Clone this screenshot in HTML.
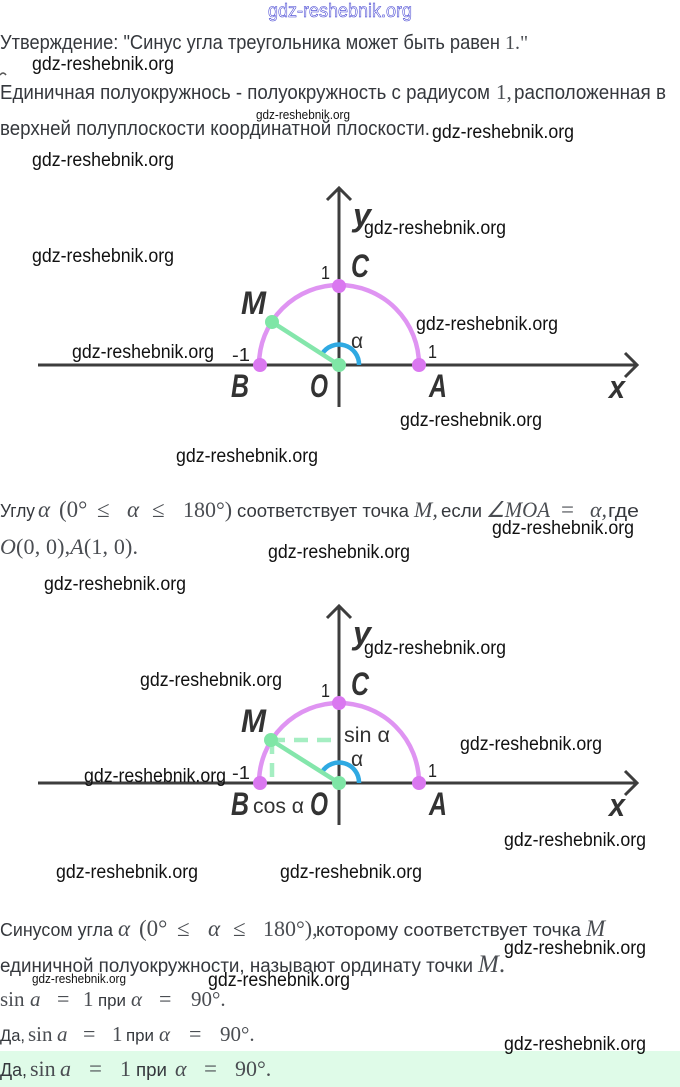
<!DOCTYPE html>
<html><head><meta charset="utf-8"><style>
html,body{margin:0;padding:0;background:#fff;width:680px;height:1087px;overflow:hidden}
svg{display:block}
.t{font-family:"Liberation Sans",sans-serif;fill:#35383d}
.m{font-family:"Liberation Serif",serif;fill:#4a4d52}
.i{font-style:italic}
.w{font-family:"Liberation Sans",sans-serif;fill:#111;font-size:19px}
.s{font-family:"Liberation Sans",sans-serif;fill:#111;font-size:13px}
.L{font-family:"Liberation Sans",sans-serif;font-weight:bold;font-style:italic;font-size:32px;fill:#333}
.n{font-family:"Liberation Sans",sans-serif;font-size:18px;fill:#222}
.a{font-family:"Liberation Sans",sans-serif;font-size:21px;fill:#333}
</style></head><body>
<svg width="680" height="1087" viewBox="0 0 680 1087" xmlns="http://www.w3.org/2000/svg">
<rect x="0" y="1051" width="680" height="36" fill="#dffbe8"/>
<text x="268" y="17" font-family="Liberation Sans,sans-serif" font-size="19" fill="#fff" stroke="#3a3ad0" stroke-width=".55" textLength="144" lengthAdjust="spacingAndGlyphs">gdz-reshebnik.org</text>

<text class="t" x="0" y="49" font-size="20" textLength="500" lengthAdjust="spacingAndGlyphs">Утверждение: "Синус угла треугольника может быть равен</text>
<text class="m" x="505" y="49" font-size="20">1."</text>
<path d="M0 75Q3 71 6 75" fill="none" stroke="#555" stroke-width="1.5"/>
<text class="t" x="0" y="99" font-size="20" textLength="490" lengthAdjust="spacingAndGlyphs">Единичная полуокружнось - полуокружность с радиусом</text>
<text class="m" x="496" y="99" font-size="21">1,</text>
<text class="t" x="514" y="99" font-size="20" textLength="152" lengthAdjust="spacingAndGlyphs">расположенная в</text>
<text class="t" x="0" y="135" font-size="20" textLength="430" lengthAdjust="spacingAndGlyphs">верхней полуплоскости координатной плоскости.</text>

<!-- diagram 1 -->
<g fill="none" stroke="#3d3d3d" stroke-width="3">
<path d="M38 365H637M625 353L637 365L625 377"/>
<path d="M339 407V188M327 200L339 188L351 200"/>
</g>
<path d="M259 365A80 80 0 0 1 419 365" fill="none" stroke="#df94f2" stroke-width="4.5"/>
<path d="M322 354A20 20 0 0 1 359 365" fill="none" stroke="#2fa9e2" stroke-width="4.5"/>
<path d="M339 365L272 322" stroke="#84e6ab" stroke-width="4.5"/>
<g fill="#da78f0"><circle cx="260" cy="365" r="7"/><circle cx="419" cy="365" r="7"/><circle cx="339" cy="286" r="7"/></g>
<g fill="#7fe6a6"><circle cx="272" cy="322" r="7"/><circle cx="339" cy="365" r="7"/></g>
<text class="L" x="353" y="226" textLength="18" lengthAdjust="spacingAndGlyphs">y</text>
<text class="L" x="351" y="277" textLength="18" lengthAdjust="spacingAndGlyphs">C</text>
<text class="L" x="241" y="314" textLength="25" lengthAdjust="spacingAndGlyphs">M</text>
<text class="L" x="231" y="397" textLength="18" lengthAdjust="spacingAndGlyphs">B</text>
<text class="L" x="310" y="397" textLength="18" lengthAdjust="spacingAndGlyphs">O</text>
<text class="L" x="429" y="397" textLength="18" lengthAdjust="spacingAndGlyphs">A</text>
<text class="L" x="609" y="398" textLength="16" lengthAdjust="spacingAndGlyphs">x</text>
<text class="n" x="321" y="279" textLength="9" lengthAdjust="spacingAndGlyphs">1</text>
<text class="n" x="232" y="361" textLength="18" lengthAdjust="spacingAndGlyphs">-1</text>
<text class="n" x="428" y="358" textLength="9" lengthAdjust="spacingAndGlyphs">1</text>
<text class="a" x="351" y="348">α</text>

<!-- text 2 -->
<text class="t" x="0" y="517" font-size="18" textLength="35" lengthAdjust="spacingAndGlyphs">Углу</text>
<text class="m i" x="38" y="517" font-size="23">α</text>
<text class="m" x="59" y="517" font-size="23">(0°</text>
<text class="m" x="97" y="517" font-size="23">≤</text>
<text class="m i" x="127" y="517" font-size="23">α</text>
<text class="m" x="152" y="517" font-size="23">≤</text>
<text class="m" x="183" y="517" font-size="22">180°)</text>
<text class="t" x="237" y="517" font-size="18" textLength="172" lengthAdjust="spacingAndGlyphs">соответствует точка</text>
<text class="m i" x="414" y="517" font-size="22">M,</text>
<text class="t" x="441" y="517" font-size="18" textLength="41" lengthAdjust="spacingAndGlyphs">если</text>
<text class="m i" x="486" y="517" font-size="22" textLength="64" lengthAdjust="spacingAndGlyphs">∠MOA</text>
<text class="m" x="561" y="517" font-size="23">=</text>
<text class="m i" x="590" y="517" font-size="22">α,</text>
<text class="t" x="608" y="517" font-size="18" textLength="31" lengthAdjust="spacingAndGlyphs">где</text>
<text class="m" x="0" y="554" font-size="22" textLength="138" lengthAdjust="spacing"><tspan class="i">O</tspan>(0, 0),<tspan class="i">A</tspan>(1, 0).</text>

<!-- diagram 2 -->
<g fill="none" stroke="#3d3d3d" stroke-width="3">
<path d="M38 783H637M625 771L637 783L625 795"/>
<path d="M339 825V606M327 618L339 606L351 618"/>
</g>
<path d="M259 783A80 80 0 0 1 419 783" fill="none" stroke="#df94f2" stroke-width="4.5"/>
<path d="M322 772A20 20 0 0 1 359 783" fill="none" stroke="#2fa9e2" stroke-width="4.5"/>
<path d="M339 783L271 740" stroke="#84e6ab" stroke-width="4.5"/>
<path d="M271 740H339M272 740V783" fill="none" stroke="#a5eec2" stroke-width="4.5" stroke-dasharray="14 9"/>
<g fill="#da78f0"><circle cx="260" cy="783" r="7"/><circle cx="419" cy="783" r="7"/><circle cx="339" cy="703" r="7"/></g>
<g fill="#7fe6a6"><circle cx="271" cy="740" r="7"/><circle cx="339" cy="783" r="7"/></g>
<text class="L" x="353" y="644" textLength="18" lengthAdjust="spacingAndGlyphs">y</text>
<text class="L" x="351" y="695" textLength="18" lengthAdjust="spacingAndGlyphs">C</text>
<text class="L" x="241" y="732" textLength="25" lengthAdjust="spacingAndGlyphs">M</text>
<text class="L" x="231" y="815" textLength="18" lengthAdjust="spacingAndGlyphs">B</text>
<text class="L" x="310" y="815" textLength="18" lengthAdjust="spacingAndGlyphs">O</text>
<text class="L" x="429" y="815" textLength="18" lengthAdjust="spacingAndGlyphs">A</text>
<text class="L" x="609" y="816" textLength="16" lengthAdjust="spacingAndGlyphs">x</text>
<text class="n" x="321" y="697" textLength="9" lengthAdjust="spacingAndGlyphs">1</text>
<text class="n" x="232" y="779" textLength="18" lengthAdjust="spacingAndGlyphs">-1</text>
<text class="n" x="428" y="777" textLength="9" lengthAdjust="spacingAndGlyphs">1</text>
<text class="a" x="351" y="766">α</text>
<text class="a" x="344" y="742" textLength="46" lengthAdjust="spacingAndGlyphs">sin α</text>
<text class="a" x="253" y="813" textLength="51" lengthAdjust="spacingAndGlyphs">cos α</text>

<!-- text 3 -->
<text class="t" x="0" y="936" font-size="18" textLength="113" lengthAdjust="spacingAndGlyphs">Синусом угла</text>
<text class="m i" x="118" y="936" font-size="23">α</text>
<text class="m" x="139" y="936" font-size="23">(0°</text>
<text class="m" x="177" y="936" font-size="23">≤</text>
<text class="m i" x="208" y="936" font-size="23">α</text>
<text class="m" x="233" y="936" font-size="23">≤</text>
<text class="m" x="263" y="936" font-size="22">180°),</text>
<text class="t" x="316" y="936" font-size="18" textLength="265" lengthAdjust="spacingAndGlyphs">которому соответствует точка</text>
<text class="m i" x="586" y="936" font-size="23">M</text>
<text class="t" x="0" y="972" font-size="19" textLength="473" lengthAdjust="spacingAndGlyphs">единичной полуокружности, называют ординату точки</text>
<text class="m" x="478" y="972" font-size="25"><tspan class="i">M</tspan>.</text>

<text class="m" x="0" y="1006" font-size="21">sin</text>
<text class="m i" x="30" y="1006" font-size="21">a</text>
<text class="m" x="57" y="1006" font-size="22">=</text>
<text class="m" x="83" y="1006" font-size="21">1</text>
<text class="t" x="98" y="1006" font-size="17" textLength="28" lengthAdjust="spacingAndGlyphs">при</text>
<text class="m i" x="131" y="1006" font-size="21">α</text>
<text class="m" x="159" y="1006" font-size="22">=</text>
<text class="m" x="191" y="1006" font-size="21">90°.</text>

<text class="t" x="0" y="1041" font-size="17" textLength="25" lengthAdjust="spacingAndGlyphs">Да,</text>
<text class="m" x="28" y="1041" font-size="21">sin</text>
<text class="m i" x="57" y="1041" font-size="21">a</text>
<text class="m" x="83" y="1041" font-size="22">=</text>
<text class="m" x="112" y="1041" font-size="21">1</text>
<text class="t" x="126" y="1041" font-size="17" textLength="28" lengthAdjust="spacingAndGlyphs">при</text>
<text class="m i" x="159" y="1041" font-size="21">α</text>
<text class="m" x="189" y="1041" font-size="22">=</text>
<text class="m" x="220" y="1041" font-size="21">90°.</text>

<text class="t" x="0" y="1076" font-size="18" textLength="27" lengthAdjust="spacingAndGlyphs">Да,</text>
<text class="m" x="30" y="1076" font-size="22">sin</text>
<text class="m i" x="60" y="1076" font-size="22">a</text>
<text class="m" x="89" y="1076" font-size="23">=</text>
<text class="m" x="120" y="1076" font-size="22">1</text>
<text class="t" x="136" y="1076" font-size="18" textLength="31" lengthAdjust="spacingAndGlyphs">при</text>
<text class="m i" x="175" y="1076" font-size="22">α</text>
<text class="m" x="204" y="1076" font-size="23">=</text>
<text class="m" x="235" y="1076" font-size="22">90°.</text>

<!-- watermarks -->
<g>
<text class="w" x="32" y="70" textLength="142" lengthAdjust="spacingAndGlyphs">gdz-reshebnik.org</text>
<text class="w" x="432" y="138" textLength="142" lengthAdjust="spacingAndGlyphs">gdz-reshebnik.org</text>
<text class="w" x="32" y="166" textLength="142" lengthAdjust="spacingAndGlyphs">gdz-reshebnik.org</text>
<text class="w" x="364" y="234" textLength="142" lengthAdjust="spacingAndGlyphs">gdz-reshebnik.org</text>
<text class="w" x="32" y="262" textLength="142" lengthAdjust="spacingAndGlyphs">gdz-reshebnik.org</text>
<text class="w" x="416" y="330" textLength="142" lengthAdjust="spacingAndGlyphs">gdz-reshebnik.org</text>
<text class="w" x="72" y="358" textLength="142" lengthAdjust="spacingAndGlyphs">gdz-reshebnik.org</text>
<text class="w" x="400" y="426" textLength="142" lengthAdjust="spacingAndGlyphs">gdz-reshebnik.org</text>
<text class="w" x="176" y="462" textLength="142" lengthAdjust="spacingAndGlyphs">gdz-reshebnik.org</text>
<text class="w" x="492" y="534" textLength="142" lengthAdjust="spacingAndGlyphs">gdz-reshebnik.org</text>
<text class="w" x="268" y="558" textLength="142" lengthAdjust="spacingAndGlyphs">gdz-reshebnik.org</text>
<text class="w" x="44" y="590" textLength="142" lengthAdjust="spacingAndGlyphs">gdz-reshebnik.org</text>
<text class="w" x="364" y="654" textLength="142" lengthAdjust="spacingAndGlyphs">gdz-reshebnik.org</text>
<text class="w" x="140" y="686" textLength="142" lengthAdjust="spacingAndGlyphs">gdz-reshebnik.org</text>
<text class="w" x="460" y="750" textLength="142" lengthAdjust="spacingAndGlyphs">gdz-reshebnik.org</text>
<text class="w" x="84" y="782" textLength="142" lengthAdjust="spacingAndGlyphs">gdz-reshebnik.org</text>
<text class="w" x="504" y="846" textLength="142" lengthAdjust="spacingAndGlyphs">gdz-reshebnik.org</text>
<text class="w" x="56" y="878" textLength="142" lengthAdjust="spacingAndGlyphs">gdz-reshebnik.org</text>
<text class="w" x="280" y="878" textLength="142" lengthAdjust="spacingAndGlyphs">gdz-reshebnik.org</text>
<text class="w" x="504" y="954" textLength="142" lengthAdjust="spacingAndGlyphs">gdz-reshebnik.org</text>
<text class="w" x="208" y="986" textLength="142" lengthAdjust="spacingAndGlyphs">gdz-reshebnik.org</text>
<text class="w" x="504" y="1050" textLength="142" lengthAdjust="spacingAndGlyphs">gdz-reshebnik.org</text>
<text class="s" x="256" y="119" textLength="94" lengthAdjust="spacingAndGlyphs">gdz-reshebnik.org</text>
<text class="s" x="32" y="983" textLength="94" lengthAdjust="spacingAndGlyphs">gdz-reshebnik.org</text>
</g>
</svg>
</body></html>
